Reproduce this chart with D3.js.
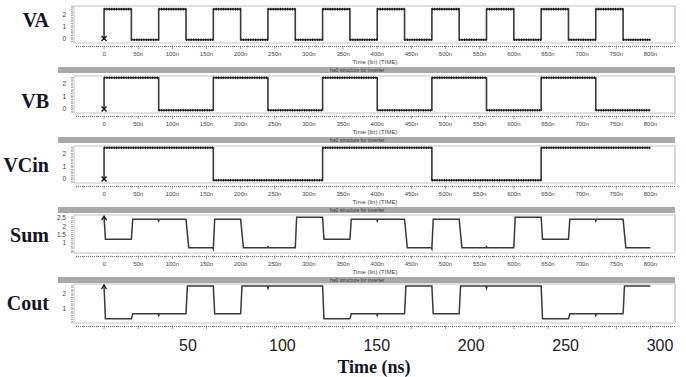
<!DOCTYPE html>
<html>
<head>
<meta charset="utf-8">
<script src="https://cdn.jsdelivr.net/npm/d3@7"></script>
<style>
  body { margin: 0; background: #fff; }
  svg { display: block; }
</style>
</head>
<body>
<script>
// signal names
const names = ["VA", "VB", "VCin", "Sum", "Cout"];

// digital inputs: [time ns, volts] step points
const vaSteps = [[0, -0.1], [0, 2.5], [40, -0.1], [80, 2.5], [120, -0.1], [160, 2.5], [200, -0.1],
  [240, 2.5], [280, -0.1], [320, 2.5], [360, -0.1], [400, 2.5], [440, -0.1], [480, 2.5],
  [520, -0.1], [560, 2.5], [600, -0.1], [640, 2.5], [680, -0.1], [720, 2.5], [760, -0.1], [800, -0.1]];
const vbSteps = [[0, -0.1], [0, 2.5], [80, -0.1], [160, 2.5], [240, -0.1], [320, 2.5], [400, -0.1],
  [480, 2.5], [560, -0.1], [640, 2.5], [720, -0.1], [800, -0.1]];
const vcinSteps = [[0, -0.1], [0, 2.5], [160, -0.1], [320, 2.5], [480, -0.1], [640, 2.5], [800, 2.5]];

// analog outputs: [time ns, volts]
const sumPoints = [[0, 2.55], [2, 1.22], [40, 1.22], [42, 2.42], [79, 2.42], [80, 2.32], [81, 2.42],
  [120, 2.42], [124, 0.72], [159, 0.72], [160, 0.64], [162, 2.42], [200, 2.42], [204, 0.72],
  [239, 0.72], [240, 0.78], [241, 0.72], [280, 0.72], [282, 2.55], [320, 2.55], [322, 1.22],
  [360, 1.22], [362, 2.42], [399, 2.42], [400, 2.32], [401, 2.42], [440, 2.42], [444, 0.72],
  [479, 0.72], [480, 0.64], [482, 2.42], [520, 2.42], [524, 0.72], [559, 0.72], [560, 0.78],
  [561, 0.72], [600, 0.72], [602, 2.55], [640, 2.55], [642, 1.22], [680, 1.22], [682, 2.42],
  [719, 2.42], [720, 2.32], [721, 2.42], [760, 2.42], [764, 0.72], [800, 0.72]];
const coutPoints = [[0, 2.57], [2, 0.29], [40, 0.29], [42, 0.64], [79, 0.64], [80, 0.52], [81, 0.64],
  [120, 0.64], [122, 2.57], [160, 2.57], [162, 0.64], [200, 0.64], [202, 2.57], [239, 2.57],
  [240, 2.42], [241, 2.57], [320, 2.57], [322, 0.29], [360, 0.29], [362, 0.64], [399, 0.64],
  [400, 0.52], [401, 0.64], [440, 0.64], [442, 2.57], [480, 2.57], [482, 0.64], [520, 0.64],
  [522, 2.57], [559, 2.57], [560, 2.42], [561, 2.57], [640, 2.57], [642, 0.29], [680, 0.29],
  [682, 0.64], [719, 0.64], [720, 0.52], [721, 0.64], [760, 0.64], [762, 2.57], [800, 2.57]];

// tick values
const timeTicks = [0, 50, 100, 150, 200, 250, 300, 350, 400, 450, 500, 550, 600, 650, 700, 750, 800];
const digitalTicks = [0, 1, 2];
const sumTicks = [1, 1.5, 2, 2.5];
const coutTicks = [1, 2];
const nsTicks = [50, 100, 150, 200, 250, 300];

const width = 686, height = 377;
const svg = d3.select("body").append("svg")
  .attr("width", width).attr("height", height)
  .style("font-family", "'Liberation Sans', Arial, sans-serif");

const x = d3.scaleLinear().domain([-44, 836]).range([74, 675]);

const panels = [
  { name: "VA", top: 6, bottom: 43, domain: [-0.38, 2.77], ticks: digitalTicks, data: vaSteps, kind: "digital", band: null, labelY: 27 },
  { name: "VB", top: 76, bottom: 113, domain: [-0.32, 2.64], ticks: digitalTicks, data: vbSteps, kind: "digital", band: 67, labelY: 108 },
  { name: "VCin", top: 146, bottom: 183, domain: [-0.32, 2.64], ticks: digitalTicks, data: vcinSteps, kind: "digital", band: 137, labelY: 172 },
  { name: "Sum", top: 215, bottom: 253, domain: [0.4, 2.68], ticks: sumTicks, data: sumPoints, kind: "analog", band: 207, labelY: 242 },
  { name: "Cout", top: 284, bottom: 323, domain: [0.0, 2.71], ticks: coutTicks, data: coutPoints, kind: "analog", band: 277, labelY: 310 }
];

panels.forEach((p, i) => {
  const y = d3.scaleLinear().domain(p.domain).range([p.bottom, p.top]);
  const g = svg.append("g");

  // header band
  if (p.band !== null) {
    g.append("rect")
      .attr("x", 58).attr("y", p.band)
      .attr("width", 617).attr("height", 6)
      .attr("fill", "#a9a9a9");
    g.append("text")
      .attr("x", 330).attr("y", p.band + 4.6)
      .attr("font-size", 5).attr("fill", "#333")
      .text("ha0 structure for inverter");
  }

  // plot box
  g.append("rect")
    .attr("x", x.range()[0]).attr("y", p.top)
    .attr("width", x.range()[1] - x.range()[0]).attr("height", p.bottom - p.top)
    .attr("fill", "#fff").attr("stroke", "#c4c4c4").attr("stroke-width", 1);
  g.append("line")
    .attr("x1", x.range()[1]).attr("x2", x.range()[1])
    .attr("y1", p.top).attr("y2", p.bottom)
    .attr("stroke", "#e6c6c8").attr("stroke-width", 1.2);

  // bottom time axis (dotted with minor ticks)
  const axisY = p.bottom + 3.5;
  g.append("line")
    .attr("x1", x.range()[0] + 2).attr("x2", x.range()[1])
    .attr("y1", axisY).attr("y2", axisY)
    .attr("stroke", "#777").attr("stroke-dasharray", "1,1");
  const minor = d3.range(-40, 837, 10);
  g.selectAll(".mt").data(minor).enter().append("line")
    .attr("x1", (d) => x(d)).attr("x2", (d) => x(d))
    .attr("y1", axisY - 1).attr("y2", (d) => axisY + (d % 50 === 0 ? 2.5 : 1))
    .attr("stroke", "#777").attr("stroke-width", 0.7);
  if (i < 4) {
    g.selectAll(".tl").data(timeTicks).enter().append("text")
      .attr("x", (d) => x(d)).attr("y", p.bottom + 13)
      .attr("text-anchor", "middle").attr("font-size", 6).attr("fill", "#444")
      .text((d) => (d === 0 ? "0" : d + "n"));
    g.append("text")
      .attr("x", 375).attr("y", p.bottom + 21)
      .attr("text-anchor", "middle").attr("font-size", 6).attr("fill", "#444")
      .text("Time (lin) (TIME)");
  }

  // left value axis
  const axisX = x.range()[0] - 2;
  g.append("line")
    .attr("x1", axisX).attr("x2", axisX)
    .attr("y1", p.top + 1).attr("y2", p.bottom)
    .attr("stroke", "#888").attr("stroke-dasharray", "1,1");
  const step = 0.25;
  const yMinor = d3.range(Math.ceil(p.domain[0] / step) * step, p.domain[1], step);
  g.selectAll(".ym").data(yMinor).enter().append("line")
    .attr("x1", axisX - 1).attr("x2", axisX + 1)
    .attr("y1", (d) => y(d)).attr("y2", (d) => y(d))
    .attr("stroke", "#888").attr("stroke-width", 0.7);
  g.selectAll(".yl").data(p.ticks).enter().append("text")
    .attr("x", axisX - 6).attr("y", (d) => y(d) + 2.2)
    .attr("text-anchor", "end").attr("font-size", 6.5).attr("fill", "#444")
    .text((d) => d);

  // signal name
  g.append("text")
    .attr("x", 49).attr("y", p.labelY)
    .attr("text-anchor", "end")
    .attr("font-family", "'Liberation Serif', 'Times New Roman', serif")
    .attr("font-weight", "bold").attr("font-size", 20)
    .attr("fill", "#141428")
    .text(p.name);

  // waveform
  const line = d3.line()
    .x((d) => x(d[0])).y((d) => y(d[1]))
    .curve(p.kind === "digital" ? d3.curveStepAfter : d3.curveLinear);
  g.append("path").datum(p.data)
    .attr("fill", "none").attr("stroke", "#3a3a3a")
    .attr("stroke-width", p.kind === "digital" ? 1.6 : 1.5)
    .attr("d", line);

  if (p.kind === "digital") {
    // sample markers along the flat levels
    const flats = p.data.slice(0, -1).map((d, k) => [d, [p.data[k + 1][0], d[1]]])
      .filter((s) => s[1][0] > s[0][0]);
    g.selectAll(".fl").data(flats).enter().append("line")
      .attr("x1", (s) => x(s[0][0])).attr("x2", (s) => x(s[1][0]))
      .attr("y1", (s) => y(s[0][1])).attr("y2", (s) => y(s[1][1]))
      .attr("stroke", "#111").attr("stroke-width", 2.6)
      .attr("stroke-dasharray", "1,1.4");
    // start cross
    const cx = x(0), cy = y(0);
    g.append("path")
      .attr("d", `M${cx - 2.5},${cy - 2.5}L${cx + 2.5},${cy + 2.5}M${cx + 2.5},${cy - 2.5}L${cx - 2.5},${cy + 2.5}`)
      .attr("stroke", "#111").attr("stroke-width", 1.3);
  } else {
    // start arrow
    const ax = x(p.data[0][0]), ay = y(p.data[0][1]);
    g.append("path")
      .attr("d", `M${ax - 2.5},${ay + 3}L${ax},${ay - 1}L${ax + 2.5},${ay + 3}`)
      .attr("fill", "none").attr("stroke", "#111").attr("stroke-width", 1.3);
  }
});

// overlay time axis in ns
const xNs = d3.scaleLinear().domain([0, 300]).range([93.6, 660]);
svg.append("g").selectAll("text").data(nsTicks).enter().append("text")
  .attr("x", (d) => xNs(d)).attr("y", 351)
  .attr("text-anchor", "middle").attr("font-size", 16).attr("fill", "#222")
  .text((d) => d);
svg.append("text")
  .attr("x", 374).attr("y", 373)
  .attr("text-anchor", "middle")
  .attr("font-family", "'Liberation Serif', 'Times New Roman', serif")
  .attr("font-weight", "bold").attr("font-size", 18).attr("fill", "#141428")
  .text("Time (ns)");
</script>
</body>
</html>
